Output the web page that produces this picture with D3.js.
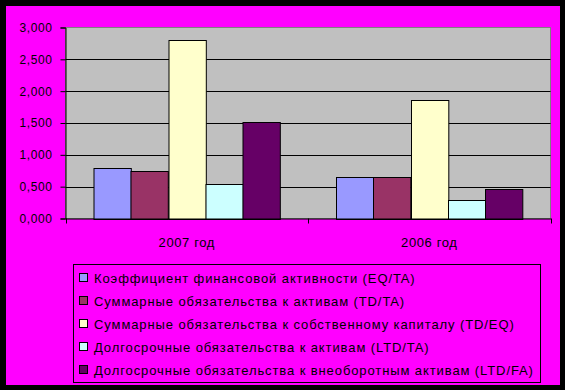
<!DOCTYPE html>
<html lang="ru">
<head>
<meta charset="UTF-8">
<title>Коэффициенты</title>
<style>
  body { margin: 0; background: #000; }
  svg text { font-family: Arial, "Liberation Sans", sans-serif; fill: #000; }
</style>
</head>
<body>
<div id="chart"></div>
<script src="https://cdnjs.cloudflare.com/ajax/libs/d3/7.8.2/d3.min.js"></script>
<script>
// data
var years = ["2007 год", "2006 год"];
var seriesNames = [
  "Коэффициент финансовой активности (EQ/TA)",
  "Суммарные обязательства к активам (TD/TA)",
  "Суммарные обязательства к собственному капиталу (TD/EQ)",
  "Долгосрочные обязательства к активам (LTD/TA)",
  "Долгосрочные обязательства к внеоборотным активам (LTD/FA)"
];
var values2007 = [0.786, 0.739, 2.800, 0.535, 1.515];
var values2006 = [0.645, 0.645, 1.855, 0.283, 0.456];
var yTicks = [0, 0.5, 1, 1.5, 2, 2.5, 3];
var colors = ["#9999FF", "#993366", "#FFFFCC", "#CCFFFF", "#660066"];

var valuesByYear = [values2007, values2006];

var width = 565, height = 390;
var svg = d3.select("#chart").append("svg")
  .attr("width", width)
  .attr("height", height);

// black frame + magenta chart area
svg.append("rect").attr("width", width).attr("height", height).attr("fill", "#000");
svg.append("rect")
  .attr("x", 6).attr("y", 6)
  .attr("width", 554).attr("height", 379)
  .attr("fill", "#FF00FF");

var plot = { left: 65.5, right: 550.5, top: 27.5, bottom: 218.5 };

var x = d3.scaleBand()
  .domain(years)
  .range([plot.left, plot.right])
  .padding(0);

var xs = d3.scaleBand()
  .domain(d3.range(seriesNames.length))
  .range([0, x.bandwidth()])
  .paddingInner(0)
  .paddingOuter(0.75);

var y = d3.scaleLinear()
  .domain([0, 3])
  .range([plot.bottom, plot.top]);

// plot area
svg.append("rect")
  .attr("x", plot.left).attr("y", plot.top)
  .attr("width", plot.right - plot.left)
  .attr("height", plot.bottom - plot.top)
  .attr("fill", "#C0C0C0")
  .attr("stroke", "#808080");

// gridlines
svg.append("g")
  .selectAll("line")
  .data(yTicks.filter(function(d) { return d > 0 && d < 3; }))
  .enter().append("line")
  .attr("x1", plot.left).attr("x2", plot.right)
  .attr("y1", function(d) { return Math.round(y(d)) + 0.5; })
  .attr("y2", function(d) { return Math.round(y(d)) + 0.5; })
  .attr("stroke", "#000");

// bars
var groups = svg.append("g")
  .selectAll("g")
  .data(years)
  .enter().append("g")
  .attr("transform", function(d) { return "translate(" + x(d) + ",0)"; });

groups.selectAll("rect")
  .data(function(d, i) { return valuesByYear[i]; })
  .enter().append("rect")
  .attr("x", function(d, i) { return Math.round(xs(i)) + 0.5; })
  .attr("y", function(d) { return Math.round(y(d)) + 0.5; })
  .attr("width", xs.bandwidth())
  .attr("height", function(d) { return Math.round(y(0)) - Math.round(y(d)); })
  .attr("fill", function(d, i) { return colors[i]; })
  .attr("stroke", "#000");

// y axis
var yAxis = d3.axisLeft(y)
  .tickValues(yTicks)
  .tickSize(5)
  .tickPadding(8)
  .tickFormat(function(d) { return d3.format(".3f")(d).replace(".", ","); });

var ya = svg.append("g")
  .attr("transform", "translate(" + plot.left + ",0)")
  .call(yAxis);
ya.select(".domain").attr("stroke", "#000");
ya.selectAll("text")
  .attr("font-size", 12)
  .attr("letter-spacing", 0.6)
  .attr("fill", "#000")
  .attr("font-family", "Arial, 'Liberation Sans', sans-serif");

// x axis
var xa = svg.append("g")
  .attr("transform", "translate(0," + plot.bottom + ")")
  .call(d3.axisBottom(x).tickSize(0).tickPadding(19));
xa.select(".domain").attr("stroke", "#000");
xa.selectAll("text")
  .attr("font-size", 13)
  .attr("letter-spacing", 0.6)
  .attr("fill", "#000")
  .attr("font-family", "Arial, 'Liberation Sans', sans-serif");

// category separators
xa.selectAll(".sep")
  .data([plot.left, x(years[1]), plot.right])
  .enter().append("line")
  .attr("x1", function(d) { return Math.round(d) + 0.5; })
  .attr("x2", function(d) { return Math.round(d) + 0.5; })
  .attr("y1", 0).attr("y2", 5)
  .attr("stroke", "#000");

// legend
var legend = svg.append("g");
legend.append("rect")
  .attr("x", 73.5).attr("y", 264.5)
  .attr("width", 467).attr("height", 118)
  .attr("fill", "none")
  .attr("stroke", "#000");

var item = legend.selectAll(".item")
  .data(seriesNames)
  .enter().append("g")
  .attr("transform", function(d, i) { return "translate(79," + (273 + i * 23) + ")"; });

item.append("rect")
  .attr("x", 0.5).attr("y", 0.5)
  .attr("width", 8).attr("height", 8)
  .attr("fill", function(d, i) { return colors[i]; })
  .attr("stroke", "#000");

item.append("text")
  .attr("x", 15)
  .attr("y", 10)
  .attr("font-size", 13)
  .attr("letter-spacing", 0.9)
  .text(function(d) { return d; });
</script>
</body>
</html>
